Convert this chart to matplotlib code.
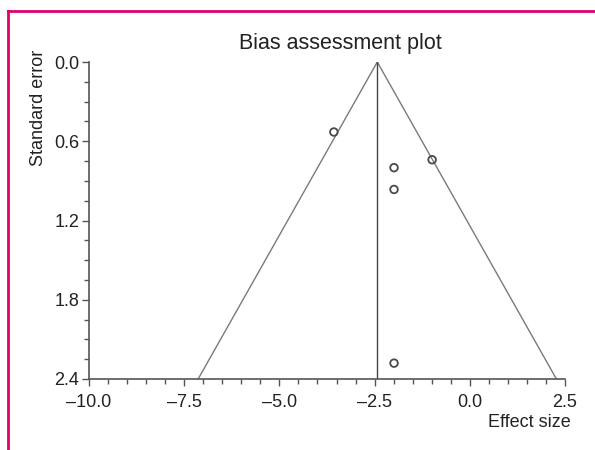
import matplotlib
matplotlib.use("Agg")
import matplotlib.pyplot as plt
from matplotlib.ticker import MultipleLocator, FuncFormatter
from matplotlib.lines import Line2D

plt.rcParams['font.family'] = ['Liberation Sans', 'DejaVu Sans']

# Data
effect_size = [-3.57, -0.99, -1.99, -1.99, -1.99]
std_error = [0.53, 0.74, 0.80, 0.965, 2.28]
pooled_effect = -2.43
se_max = 2.4
x_ticks = [-10.0, -7.5, -5.0, -2.5, 0.0, 2.5]
y_ticks = [0.0, 0.6, 1.2, 1.8, 2.4]

fig = plt.figure(figsize=(5.95, 4.5), dpi=100)
ax = fig.add_axes([0.1496, 0.1578, 0.80, 0.7044])

# funnel
ax.plot([pooled_effect - 1.96 * se_max, pooled_effect, pooled_effect + 1.96 * se_max],
        [se_max, 0, se_max], color='#7a7a7a', lw=1.0, zorder=2)
ax.plot([pooled_effect, pooled_effect], [0, se_max], color='#444444', lw=1.0, zorder=2)

ax.scatter(effect_size, std_error, s=30, facecolors='none', edgecolors='#4a4a4a',
           linewidths=1.3, zorder=3)

ax.set_xlim(-10, 2.5)
ax.set_ylim(2.4, 0.0)
ax.set_xticks(x_ticks)
ax.set_yticks(y_ticks)
ax.xaxis.set_minor_locator(MultipleLocator(0.5))
ax.yaxis.set_minor_locator(MultipleLocator(0.15))
fmt = FuncFormatter(lambda v, p: f"{v:.1f}".replace('-', '\u2013'))
ax.xaxis.set_major_formatter(fmt)
ax.yaxis.set_major_formatter(fmt)

for s in ['top', 'right']:
    ax.spines[s].set_visible(False)
for s in ['left', 'bottom']:
    ax.spines[s].set_color('#555555')
    ax.spines[s].set_linewidth(1.2)
ax.tick_params(which='major', length=5, width=1.0, color='#555555', labelsize=13,
               labelcolor='#222222')
ax.tick_params(axis='y', which='major', pad=2)
ax.tick_params(axis='x', which='major', pad=6)
ax.tick_params(which='minor', length=3.5, width=1.0, color='#555555')

fig.text(0.572, 0.904, 'Bias assessment plot', ha='center', va='center',
         fontsize=15.5, color='#222222')
fig.text(0.064, 0.76, 'Standard error', ha='center', va='center', rotation=90,
         fontsize=13, color='#222222')
fig.text(0.96, 0.062, 'Effect size', ha='right', va='center', fontsize=13,
         color='#222222')

# pink frame (left and top)
pink = '#e0006e'
fig.add_artist(Line2D([8/595, 8/595], [0, 1 - 11/450], transform=fig.transFigure,
                      color=pink, lw=2))
fig.add_artist(Line2D([8/595, 1], [1 - 11/450, 1 - 11/450], transform=fig.transFigure,
                      color=pink, lw=2))

fig.savefig('out.png', dpi=100)
